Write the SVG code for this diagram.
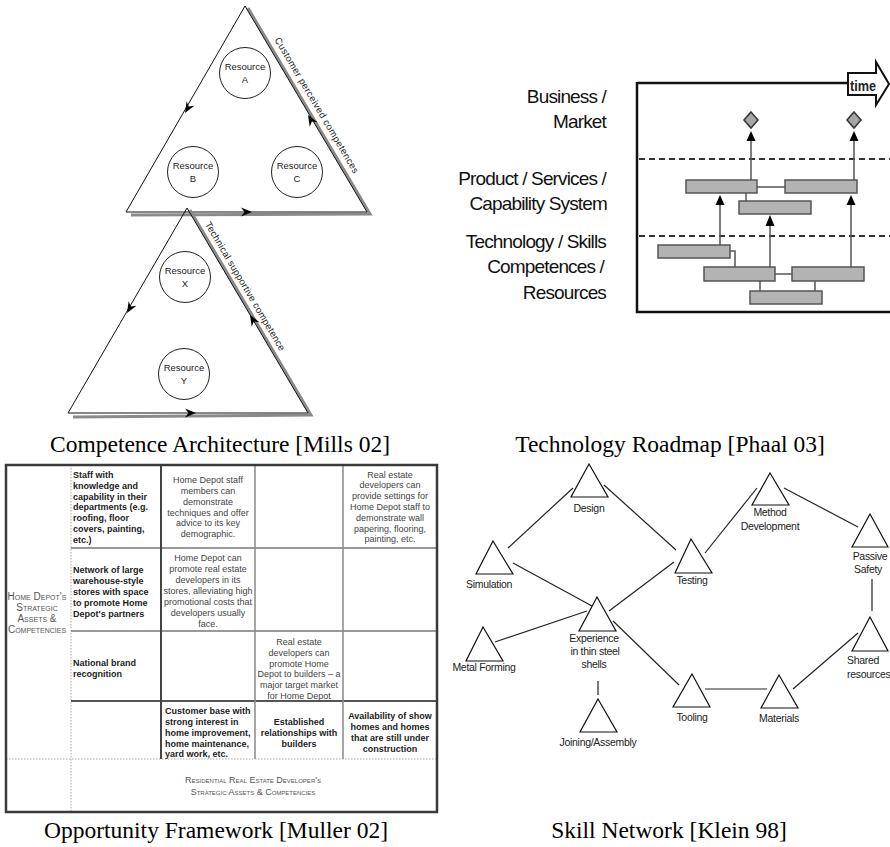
<svg xmlns="http://www.w3.org/2000/svg" width="890" height="847" viewBox="0 0 890 847">
<defs>
<style>
.cap{font-family:"Liberation Serif","Times New Roman",serif;font-size:23.5px;fill:#000;text-anchor:middle}
.res{font-family:"Liberation Sans",Arial,sans-serif;font-size:9.5px;fill:#222;text-anchor:middle}
.circ{fill:none;stroke:#222;stroke-width:1}
.tri{fill:none;stroke:#111;stroke-width:1}
.shadow{fill:none;stroke:#8a8a8a;stroke-width:3}
.edge{font-family:"Liberation Sans",Arial,sans-serif;font-size:9.5px;fill:#222}
.rml{font-family:"Liberation Sans",Arial,sans-serif;font-size:19px;letter-spacing:-0.85px;fill:#111;text-anchor:end}
.bar{fill:#b3b3b3;stroke:#555;stroke-width:1.5}
.rmline{stroke:#555;stroke-width:1.5;fill:none}
.dash{stroke:#333;stroke-width:2;stroke-dasharray:6,4}
.tb{font-family:"Liberation Sans",Arial,sans-serif;font-size:9px;font-weight:bold;fill:#222}
.mid{text-anchor:middle}
.tr{font-family:"Liberation Sans",Arial,sans-serif;font-size:9px;fill:#444;text-anchor:middle}
.sc{font-family:"Liberation Sans",Arial,sans-serif;font-size:10px;font-variant:small-caps;fill:#555;text-anchor:middle}
.scf{font-size:9px}
.nt{fill:none;stroke:#111;stroke-width:1.2}
.nl{font-family:"Liberation Sans",Arial,sans-serif;font-size:10.5px;fill:#222;text-anchor:middle;letter-spacing:-0.3px}
.nls{text-anchor:start}
.ne{stroke:#222;stroke-width:1.2}
</style>
<path id="ah" d="M0,0 L-11,-4.5 L-7.5,0 L-11,4.5 Z" fill="#000"/>
</defs>
<rect width="890" height="847" fill="#fff"/>

<!-- ===== Competence Architecture ===== -->
<g id="ca-top-triangle">
  <path class="shadow" d="M248,8 L370,214 L131,215"/>
  <path class="tri" d="M245,6 L367,212 L126,212 Z"/>
  <text class="edge" transform="translate(274.3,39.8) rotate(59.4)" textLength="156" lengthAdjust="spacing">Customer perceived competences</text>
</g>
<g id="ca-bottom-triangle">
  <path class="shadow" d="M190,210 L311,415 L73,417"/>
  <path class="tri" d="M187,208 L308,413 L68,413 Z"/>
  <text class="edge" transform="translate(204.7,224.2) rotate(59.4)" textLength="148" lengthAdjust="spacing">Technical supportive competence</text>
</g>
<g id="ca-connectors">
  <use href="#ah" transform="translate(185,113) rotate(120)"/>
  <use href="#ah" transform="translate(308,115) rotate(-120.6)"/>
  <use href="#ah" transform="translate(252,212)"/>
  <use href="#ah" transform="translate(127,313) rotate(120)"/>
  <use href="#ah" transform="translate(250,315) rotate(-120.6)"/>
  <use href="#ah" transform="translate(196,413)"/>
</g>
<g id="res-a"><circle class="circ" cx="245" cy="73" r="25.5"/><text class="res" x="245" y="70">Resource</text><text class="res" x="245" y="83">A</text></g>
<g id="res-b"><circle class="circ" cx="193" cy="172" r="25.5"/><text class="res" x="193" y="169">Resource</text><text class="res" x="193" y="182">B</text></g>
<g id="res-c"><circle class="circ" cx="297" cy="172" r="25.5"/><text class="res" x="297" y="169">Resource</text><text class="res" x="297" y="182">C</text></g>
<g id="res-x"><circle class="circ" cx="185" cy="277" r="25.5"/><text class="res" x="185" y="274">Resource</text><text class="res" x="185" y="287">X</text></g>
<g id="res-y"><circle class="circ" cx="184" cy="374" r="25.5"/><text class="res" x="184" y="371">Resource</text><text class="res" x="184" y="384">Y</text></g>
<text class="cap" x="220" y="452">Competence Architecture [Mills 02]</text>

<!-- ===== Technology Roadmap ===== -->
<g id="rm-labels">
  <text class="rml" x="606" y="103">Business /</text>
  <text class="rml" x="606" y="128">Market</text>
  <text class="rml" x="606" y="185">Product / Services /</text>
  <text class="rml" x="607" y="210">Capability System</text>
  <text class="rml" x="606" y="248">Technology / Skills</text>
  <text class="rml" x="604" y="273">Competences /</text>
  <text class="rml" x="606" y="299">Resources</text>
</g>
<g id="rm-frame">
  <path d="M637,83 H848 M637,82 V312 H890" stroke="#111" stroke-width="2.5" fill="none"/>
  <line class="dash" x1="639" y1="159" x2="890" y2="159"/>
  <line class="dash" x1="639" y1="236" x2="890" y2="236"/>
  <path d="M848,73 H876 V62 L889,84 L876,105 V95 H848 Z" fill="#fff" stroke="#111" stroke-width="2"/>
  <text x="863" y="91" font-family="Liberation Sans,Arial,sans-serif" font-size="15" font-weight="bold" fill="#222" text-anchor="middle" textLength="26" lengthAdjust="spacingAndGlyphs">time</text>
</g>
<g id="rm-links">
  <line class="rmline" x1="751" y1="180" x2="751" y2="140"/>
  <line class="rmline" x1="854" y1="180" x2="854" y2="140"/>
  <line class="rmline" x1="720" y1="245" x2="720" y2="204"/>
  <line class="rmline" x1="770" y1="267" x2="770" y2="226"/>
  <line class="rmline" x1="851" y1="267" x2="851" y2="204"/>
  <path class="rmline" d="M757,187 H785 M746,193 V201 M730,251 H735 V267 M775,274 H792 M760,281 V291 M815,281 V291"/>
  <path d="M751,131 L755.5,141 L746.5,141 Z M854,131 L858.5,141 L849.5,141 Z M720,195 L724.5,205 L715.5,205 Z M770,215 L774.5,226 L765.5,226 Z M851,195 L855.5,205 L846.5,205 Z" fill="#000"/>
</g>
<g id="rm-diamonds">
  <path d="M751,112 L758,120 L751,128 L744,120 Z M854,112 L861,120 L854,128 L847,120 Z" fill="#a6a6a6" stroke="#333" stroke-width="1.5"/>
</g>
<g id="rm-bars">
  <rect class="bar" x="686" y="180" width="71" height="13"/>
  <rect class="bar" x="785" y="180" width="72" height="13"/>
  <rect class="bar" x="739" y="201" width="72" height="13"/>
  <rect class="bar" x="658" y="245" width="72" height="13"/>
  <rect class="bar" x="704" y="267" width="71" height="14"/>
  <rect class="bar" x="792" y="267" width="72" height="14"/>
  <rect class="bar" x="750" y="291" width="72" height="13"/>
</g>
<text class="cap" x="670" y="452">Technology Roadmap [Phaal 03]</text>

<!-- ===== Opportunity Framework ===== -->
<g id="of-table">
  <line x1="71" y1="465" x2="71" y2="812" stroke="#aaa" stroke-width="1" stroke-dasharray="1.5,1.5"/>
  <line x1="6" y1="759" x2="437" y2="759" stroke="#aaa" stroke-width="1" stroke-dasharray="1.5,1.5"/>
  <line x1="71" y1="548" x2="437" y2="548" stroke="#777" stroke-width="1.5"/>
  <line x1="71" y1="631" x2="437" y2="631" stroke="#777" stroke-width="1.5"/>
  <line x1="71" y1="701" x2="437" y2="701" stroke="#555" stroke-width="2"/>
  <line x1="161" y1="465" x2="161" y2="759" stroke="#444" stroke-width="2"/>
  <line x1="255" y1="465" x2="255" y2="759" stroke="#888" stroke-width="1.5"/>
  <line x1="343" y1="465" x2="343" y2="759" stroke="#888" stroke-width="1.5"/>
  <rect x="6" y="465" width="431" height="347" fill="none" stroke="#3a3a3a" stroke-width="2.5"/>

  <text class="sc" x="37" y="600">Home Depot's</text>
  <text class="sc" x="37" y="611">Strategic</text>
  <text class="sc" x="37" y="622">Assets &amp;</text>
  <text class="sc" x="37" y="633">Competencies</text>

  <text class="tb" x="73" y="478">Staff with</text>
  <text class="tb" x="73" y="488.8">knowledge and</text>
  <text class="tb" x="73" y="499.6">capability in their</text>
  <text class="tb" x="73" y="510.4">departments (e.g.</text>
  <text class="tb" x="73" y="521.2">roofing, floor</text>
  <text class="tb" x="73" y="532">covers, painting,</text>
  <text class="tb" x="73" y="542.8">etc.)</text>

  <text class="tr" x="208" y="483">Home Depot staff</text>
  <text class="tr" x="208" y="494">members can</text>
  <text class="tr" x="208" y="505">demonstrate</text>
  <text class="tr" x="208" y="515.5">techniques and offer</text>
  <text class="tr" x="208" y="526">advice to its key</text>
  <text class="tr" x="208" y="537">demographic.</text>

  <text class="tr" x="390" y="477.5">Real estate</text>
  <text class="tr" x="390" y="488.3">developers can</text>
  <text class="tr" x="390" y="499.1">provide settings for</text>
  <text class="tr" x="390" y="509.9">Home Depot staff to</text>
  <text class="tr" x="390" y="520.7">demonstrate wall</text>
  <text class="tr" x="390" y="531.5">papering, flooring,</text>
  <text class="tr" x="390" y="542.3">painting, etc.</text>

  <text class="tb" x="73" y="573">Network of large</text>
  <text class="tb" x="73" y="584">warehouse-style</text>
  <text class="tb" x="73" y="595">stores with space</text>
  <text class="tb" x="73" y="606">to promote Home</text>
  <text class="tb" x="73" y="617">Depot's partners</text>

  <text class="tr" x="208" y="561">Home Depot can</text>
  <text class="tr" x="208" y="572">promote real estate</text>
  <text class="tr" x="208" y="583">developers in its</text>
  <text class="tr" x="208" y="594">stores, alleviating high</text>
  <text class="tr" x="208" y="605">promotional costs that</text>
  <text class="tr" x="208" y="616">developers usually</text>
  <text class="tr" x="208" y="627">face.</text>

  <text class="tb" x="73" y="666">National brand</text>
  <text class="tb" x="73" y="677">recognition</text>

  <text class="tr" x="299" y="645">Real estate</text>
  <text class="tr" x="299" y="655.8">developers can</text>
  <text class="tr" x="299" y="666.6">promote Home</text>
  <text class="tr" x="299" y="677.4">Depot to builders – a</text>
  <text class="tr" x="299" y="688.2">major target market</text>
  <text class="tr" x="299" y="699">for Home Depot</text>

  <text class="tb" x="165" y="714">Customer base with</text>
  <text class="tb" x="165" y="725">strong interest in</text>
  <text class="tb" x="165" y="736">home improvement,</text>
  <text class="tb" x="165" y="746.5">home maintenance,</text>
  <text class="tb" x="165" y="757">yard work, etc.</text>

  <text class="tb mid" x="299" y="725">Established</text>
  <text class="tb mid" x="299" y="736">relationships with</text>
  <text class="tb mid" x="299" y="746.5">builders</text>

  <text class="tb mid" x="390" y="719">Availability of show</text>
  <text class="tb mid" x="390" y="730">homes and homes</text>
  <text class="tb mid" x="390" y="741">that are still under</text>
  <text class="tb mid" x="390" y="751.5">construction</text>

  <text class="sc scf" x="253" y="783">Residential Real Estate Developer's</text>
  <text class="sc scf" x="253" y="795">Strategic Assets &amp; Competencies</text>
</g>
<text class="cap" x="216" y="838">Opportunity Framework [Muller 02]</text>

<!-- ===== Skill Network ===== -->
<g id="sn-connectors">
  <line class="ne" x1="573" y1="488" x2="508" y2="548"/>
  <line class="ne" x1="604" y1="485" x2="676" y2="550"/>
  <line class="ne" x1="513" y1="563" x2="592" y2="606"/>
  <line class="ne" x1="674" y1="562" x2="609" y2="611"/>
  <line class="ne" x1="705" y1="553" x2="757" y2="488"/>
  <line class="ne" x1="784" y1="488" x2="858" y2="527"/>
  <line class="ne" x1="872" y1="579" x2="872" y2="611"/>
  <line class="ne" x1="495" y1="642" x2="587" y2="611"/>
  <line class="ne" x1="613" y1="621" x2="679" y2="685"/>
  <line class="ne" x1="598" y1="681" x2="598" y2="695"/>
  <line class="ne" x1="705" y1="689" x2="767" y2="689"/>
  <line class="ne" x1="793" y1="689" x2="858" y2="633"/>
</g>
<g id="sn-design"><path class="nt" d="M589,464 L608,497 L571,497 Z"/><text class="nl" x="589" y="512">Design</text></g>
<g id="sn-method"><path class="nt" d="M770,473 L789,505 L752,505 Z"/><text class="nl" x="770" y="516">Method</text><text class="nl" x="770" y="530">Development</text></g>
<g id="sn-simulation"><path class="nt" d="M493,541 L513,574 L476,574 Z"/><text class="nl" x="489" y="588">Simulation</text></g>
<g id="sn-testing"><path class="nt" d="M691,539 L712,573 L675,573 Z"/><text class="nl" x="692" y="584">Testing</text></g>
<g id="sn-passive"><path class="nt" d="M870,514 L888,547 L852,547 Z"/><text class="nl" x="870" y="560">Passive</text><text class="nl" x="868" y="573">Safety</text></g>
<g id="sn-experience"><path class="nt" d="M597,597 L616,631 L579,631 Z"/><text class="nl" x="594" y="642">Experience</text><text class="nl" x="595" y="655">in thin steel</text><text class="nl" x="594" y="668">shells</text></g>
<g id="sn-metal"><path class="nt" d="M483,627 L503,661 L466,661 Z"/><text class="nl" x="484" y="671">Metal Forming</text></g>
<g id="sn-shared"><path class="nt" d="M870,617 L888,651 L852,651 Z"/><text class="nl nls" x="847" y="664">Shared</text><text class="nl nls" x="847" y="678">resources</text></g>
<g id="sn-tooling"><path class="nt" d="M692,674 L710,707 L673,707 Z"/><text class="nl" x="692" y="721">Tooling</text></g>
<g id="sn-materials"><path class="nt" d="M779,675 L798,708 L761,708 Z"/><text class="nl" x="779" y="722">Materials</text></g>
<g id="sn-joining"><path class="nt" d="M598,699 L617,732 L580,732 Z"/><text class="nl" x="598" y="746">Joining/Assembly</text></g>
<text class="cap" x="669" y="838">Skill Network [Klein 98]</text>
</svg>
